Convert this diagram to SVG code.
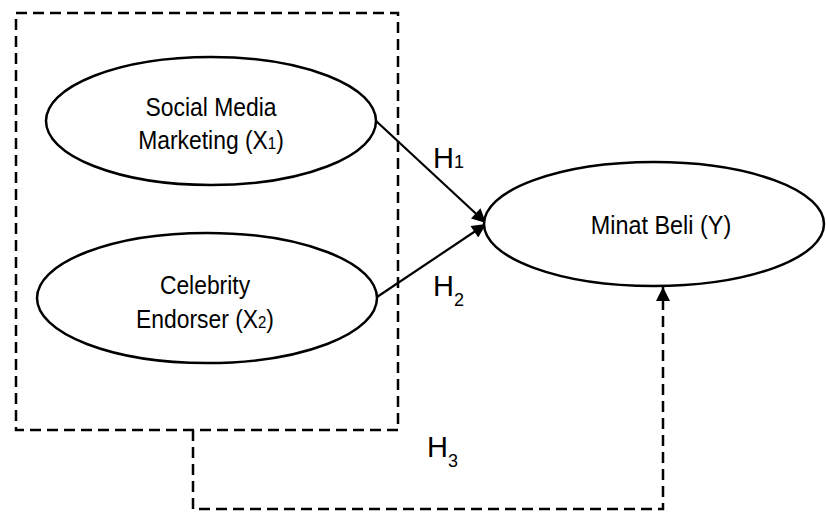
<svg xmlns="http://www.w3.org/2000/svg" width="826" height="512" viewBox="0 0 826 512">
<style>
.node{fill:#fff;stroke:#000;stroke-width:2.5}
.t{font-family:"Liberation Sans",Arial,sans-serif;font-size:26px;fill:#000;text-anchor:middle}
.h{font-family:"Liberation Sans",Arial,sans-serif;font-size:29px;fill:#000}
.dash{fill:none;stroke:#000;stroke-width:2.5;stroke-dasharray:11 6}
.solid{fill:none;stroke:#000;stroke-width:2.2}
</style>
<defs>
<marker id="arr" viewBox="0 0 10 10" refX="10" refY="5" markerWidth="16" markerHeight="14" markerUnits="userSpaceOnUse" orient="auto">
<path d="M0,0 L10,5 L0,10 Z" fill="#000"/>
</marker>
</defs>
<rect id="group-box" x="16" y="13" width="382" height="417" class="dash"/>
<g id="connectors">
<line x1="375" y1="120" x2="486" y2="223" class="solid" marker-end="url(#arr)"/>
<line x1="377" y1="297" x2="486" y2="224" class="solid" marker-end="url(#arr)"/>
<polyline points="193,430 193,509 663,509 663,287" class="dash" marker-end="url(#arr)"/>
<text class="h" x="433" y="168">H<tspan font-size="18">1</tspan></text>
<text class="h" x="433" y="296">H<tspan font-size="18" dy="10">2</tspan></text>
<text class="h" x="427" y="457">H<tspan font-size="18" dy="10">3</tspan></text>
</g>
<g id="smm">
<ellipse cx="211" cy="121" rx="165" ry="64" class="node"/>
<g transform="translate(211,0) scale(0.88,1)">
<text class="t" x="0" y="116">Social Media</text>
<text class="t" x="0" y="149">Marketing (X<tspan font-size="17">1</tspan>)</text>
</g>
</g>
<g id="ce">
<ellipse cx="207" cy="298" rx="170" ry="65" class="node"/>
<g transform="translate(205,0) scale(0.88,1)">
<text class="t" x="0" y="294">Celebrity</text>
<text class="t" x="0" y="328">Endorser (X<tspan font-size="17">2</tspan>)</text>
</g>
</g>
<g id="mb">
<ellipse cx="654" cy="224" rx="170" ry="62" class="node"/>
<g transform="translate(661,0) scale(0.9,1)">
<text class="t" x="0" y="234">Minat Beli (Y)</text>
</g>
</g>
</svg>
